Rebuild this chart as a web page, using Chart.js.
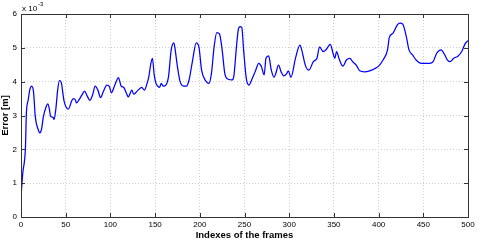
<!DOCTYPE html>
<html>
<head>
<meta charset="utf-8">
<script src="https://cdn.jsdelivr.net/npm/chart.js@4/dist/chart.umd.min.js"></script>
<style>
  html, body { margin: 0; padding: 0; background: #fff; }
  #box { width: 479px; height: 243px; }
</style>
</head>
<body>
<div id="box"><canvas id="errChart"></canvas></div>
<script>
// frame index and error (in units of 1e-3 m)
const frames = [0, 2, 5, 6, 8, 10, 12, 14, 16, 19, 21, 23, 25, 28, 30, 32, 33, 36, 37, 39, 41, 43, 45, 48, 51, 53,
  57, 59, 61, 62, 65, 68, 71, 74, 77, 80, 83, 86, 89, 92, 96, 99, 101, 105, 109, 112, 115, 118, 120, 124, 126,
  131, 135, 138, 141, 143, 145, 147, 149, 151, 152, 155, 157, 159, 162, 165, 168, 171, 172, 175, 178, 182, 185,
  188, 192, 196, 199, 202, 206, 210, 213, 216, 219, 222, 225, 228, 232, 236, 238, 241, 243, 245, 247, 249, 252,
  255, 258, 262, 266, 269, 272, 274, 277, 280, 283, 285, 288, 291, 294, 297, 299, 302, 307, 312, 314, 318, 322,
  327, 331, 334, 338, 341, 346, 349, 351, 353, 356, 360, 364, 368, 371, 375, 379, 384, 390, 396, 400, 405, 410,
  412, 416, 421, 424, 427, 431, 434, 438, 442, 448, 452, 457, 461, 465, 470, 474, 477, 480, 484, 489, 493, 497, 500];
const errors = [0.59, 1.3, 2.07, 3.06, 3.45, 3.78, 3.87, 3.7, 2.96, 2.6, 2.49, 2.6, 2.96, 3.25, 3.34, 3.15, 2.98, 2.94, 2.88, 3.2, 3.75, 4.03, 3.98, 3.45, 3.22, 3.19,
  3.45, 3.5, 3.45, 3.37, 3.47, 3.6, 3.72, 3.58, 3.45, 3.6, 3.87, 3.75, 3.53, 3.7, 3.9, 3.85, 3.67, 3.9, 4.12, 3.87, 3.83, 3.65, 3.55, 3.75, 3.63,
  3.75, 3.83, 3.75, 3.95, 4.15, 4.5, 4.69, 4.2, 3.95, 3.9, 3.83, 3.95, 3.87, 3.9, 4.15, 4.94, 5.15, 5.03, 4.44, 4.0, 3.87, 3.87,
  4.05, 4.64, 5.15, 5.03, 4.34, 4.05, 3.95, 4.24, 5.03, 5.45, 5.41, 4.94, 4.24, 4.07, 4.05, 4.15, 5.03, 5.53, 5.63, 5.6, 4.94, 4.1,
  3.9, 4.05, 4.3, 4.54, 4.44, 4.2, 4.69, 4.76, 4.34, 4.13, 4.24, 4.49, 4.29, 4.17, 4.23, 4.32, 4.13, 4.69, 5.08, 4.94, 4.49, 4.34,
  4.59, 4.69, 5.03, 4.89, 4.94, 5.1, 4.84, 4.69, 4.89, 4.66, 4.46, 4.64, 4.69, 4.59, 4.49, 4.32, 4.29, 4.32, 4.39, 4.46, 4.64, 4.94,
  5.31, 5.43, 5.68, 5.73, 5.7, 5.33, 4.94, 4.79, 4.64, 4.54, 4.54, 4.54, 4.59, 4.84, 4.94, 4.79, 4.64, 4.59, 4.69, 4.76, 4.89, 5.13, 5.21];
const xTicks = [0, 50, 100, 150, 200, 250, 300, 350, 400, 450, 500];
const yTicks = [0, 1, 2, 3, 4, 5, 6];

const fontFam = '"Liberation Sans", Arial, Helvetica, sans-serif';

// matlab style box, inward ticks and the exponent label
const matlabBox = {
  id: 'matlabBox',
  afterDraw(chart) {
    const {ctx, chartArea: a, scales} = chart;
    ctx.save();
    ctx.strokeStyle = '#333';
    ctx.lineWidth = 1;
    ctx.beginPath();
    xTicks.forEach(v => {
      const px = Math.round(scales.x.getPixelForValue(v)) + 0.5;
      ctx.moveTo(px, a.bottom); ctx.lineTo(px, a.bottom - 4);
      ctx.moveTo(px, a.top); ctx.lineTo(px, a.top + 4);
    });
    yTicks.forEach(v => {
      const py = Math.round(scales.y.getPixelForValue(v)) + 0.5;
      ctx.moveTo(a.left, py); ctx.lineTo(a.left + 4, py);
      ctx.moveTo(a.right, py); ctx.lineTo(a.right - 4, py);
    });
    ctx.stroke();
    ctx.strokeRect(Math.round(a.left) + 0.5, Math.round(a.top) + 0.5, Math.round(a.right - a.left), Math.round(a.bottom - a.top));

    ctx.fillStyle = '#000';
    ctx.textBaseline = 'alphabetic';
    ctx.font = '8px ' + fontFam;
    ctx.fillText('x 10', a.left + 1, a.top - 3);
    ctx.font = '6px ' + fontFam;
    ctx.fillText('-3', a.left + 17, a.top - 8);
    ctx.restore();
  }
};

new Chart(document.getElementById('errChart'), {
  type: 'line',
  data: {
    labels: frames,
    datasets: [{
      label: 'Error',
      data: frames.map((f, i) => ({x: f, y: errors[i]})),
      borderColor: '#0000ff',
      borderWidth: 1.25,
      pointRadius: 0,
      fill: false,
      cubicInterpolationMode: 'monotone'
    }]
  },
  options: {
    responsive: true,
    maintainAspectRatio: false,
    animation: false,
    layout: { padding: { top: 14, right: 11, left: 0, bottom: 0 } },
    plugins: { legend: { display: false }, tooltip: { enabled: false } },
    scales: {
      x: {
        type: 'linear',
        min: 0,
        max: 500,
        afterFit: s => { s.height = 26; },
        afterBuildTicks: s => { s.ticks = xTicks.map(v => ({value: v})); },
        grid: { color: '#cfcfcf', drawTicks: false, lineWidth: 1 },
        border: { display: false, dash: [1, 2] },
        ticks: { color: '#000', padding: 3, maxRotation: 0, font: { family: fontFam, size: 8 } },
        title: { display: true, text: 'Indexes of the frames', color: '#000', padding: { top: 0, bottom: 2 },
          font: { family: fontFam, size: 9.5, weight: 'bold' } }
      },
      y: {
        min: 0,
        max: 6,
        afterFit: s => { s.width = 21; },
        afterBuildTicks: s => { s.ticks = yTicks.map(v => ({value: v})); },
        grid: { color: '#cfcfcf', drawTicks: false, lineWidth: 1 },
        border: { display: false, dash: [1, 2] },
        ticks: { color: '#000', padding: 4, font: { family: fontFam, size: 8 } },
        title: { display: true, text: 'Error [m]', color: '#000', padding: { top: 0, bottom: 0 },
          font: { family: fontFam, size: 9.5, weight: 'bold' } }
      }
    }
  },
  plugins: [matlabBox]
});
</script>
</body>
</html>
